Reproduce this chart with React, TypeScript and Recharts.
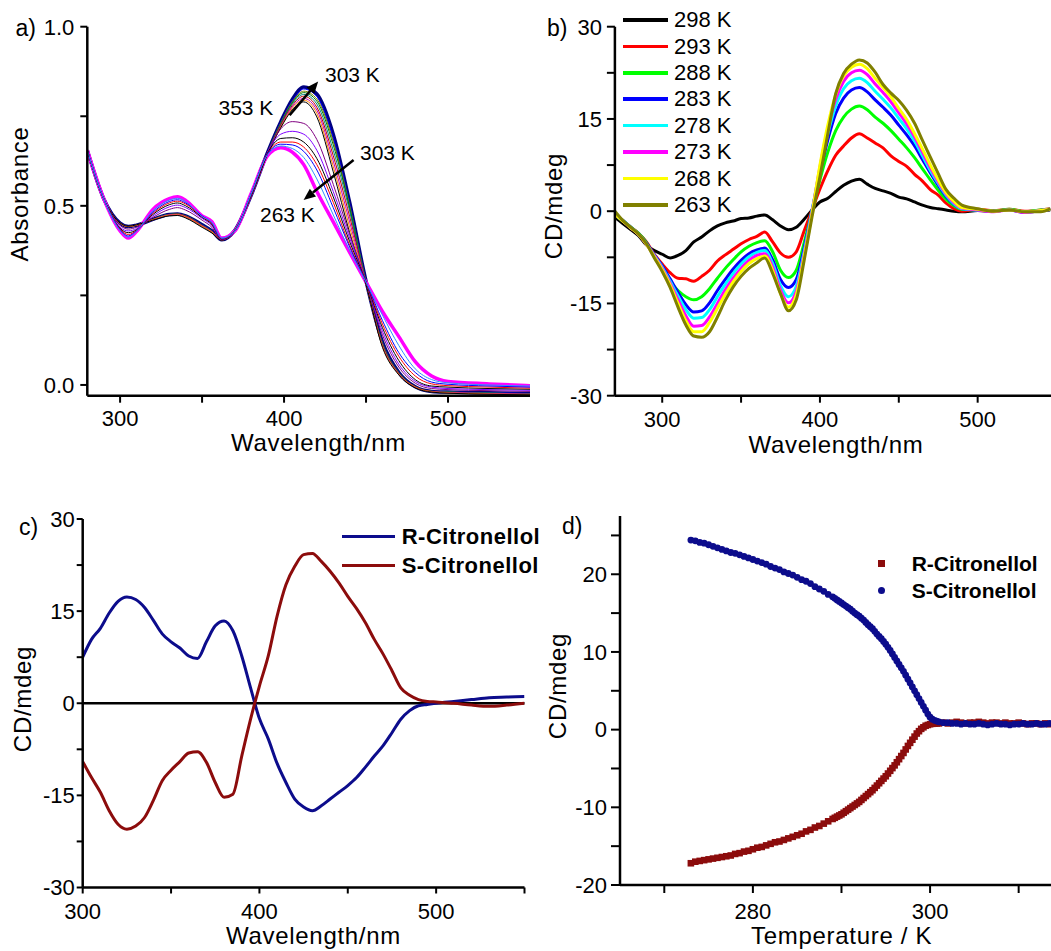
import React from 'react';
import { LineChart, Line, XAxis, YAxis, ReferenceLine, ScatterChart, Scatter } from 'recharts';

const FONT = '"Liberation Sans", Arial, Helvetica, sans-serif';

// ---------- panel a: absorbance vs wavelength at several temperatures ----------
const WL_A = [280, 290, 300, 305, 310, 320, 330, 335, 340, 350, 356, 362, 370, 380, 390, 398, 405, 412, 420, 430, 440, 450, 460, 470, 480, 490, 500, 525, 550];

const A353 = [0.655, 0.52, 0.452, 0.443, 0.447, 0.46, 0.472, 0.473, 0.466, 0.44, 0.424, 0.404, 0.43, 0.528, 0.645, 0.718, 0.768, 0.79, 0.748, 0.595, 0.425, 0.28, 0.105, 0.028, -0.008, -0.02, -0.023, -0.026, -0.028];
const A348 = [0.655, 0.52, 0.451, 0.442, 0.446, 0.461, 0.474, 0.475, 0.469, 0.443, 0.427, 0.405, 0.431, 0.529, 0.646, 0.72, 0.772, 0.795, 0.758, 0.61, 0.44, 0.282, 0.108, 0.03, -0.006, -0.019, -0.022, -0.025, -0.027];
const A343 = [0.655, 0.52, 0.451, 0.442, 0.446, 0.461, 0.475, 0.476, 0.47, 0.444, 0.428, 0.405, 0.431, 0.529, 0.647, 0.722, 0.776, 0.8, 0.767, 0.625, 0.455, 0.283, 0.11, 0.031, -0.006, -0.019, -0.021, -0.024, -0.026];
const A338 = [0.655, 0.52, 0.452, 0.442, 0.446, 0.462, 0.475, 0.477, 0.471, 0.445, 0.428, 0.405, 0.431, 0.53, 0.647, 0.725, 0.78, 0.806, 0.775, 0.64, 0.47, 0.284, 0.112, 0.032, -0.005, -0.018, -0.021, -0.024, -0.026];
const A333 = [0.655, 0.52, 0.452, 0.442, 0.446, 0.462, 0.476, 0.477, 0.471, 0.446, 0.429, 0.405, 0.432, 0.53, 0.648, 0.727, 0.784, 0.811, 0.784, 0.655, 0.485, 0.285, 0.114, 0.033, -0.005, -0.018, -0.02, -0.023, -0.025];
const A328 = [0.655, 0.52, 0.452, 0.442, 0.446, 0.462, 0.476, 0.477, 0.472, 0.446, 0.429, 0.405, 0.432, 0.53, 0.649, 0.729, 0.787, 0.816, 0.792, 0.67, 0.495, 0.286, 0.116, 0.034, -0.005, -0.018, -0.02, -0.023, -0.025];
const A323 = [0.655, 0.52, 0.452, 0.442, 0.446, 0.462, 0.476, 0.477, 0.472, 0.446, 0.429, 0.405, 0.432, 0.53, 0.649, 0.731, 0.79, 0.82, 0.798, 0.68, 0.5, 0.287, 0.117, 0.034, -0.005, -0.018, -0.02, -0.023, -0.025];
const A313 = [0.655, 0.52, 0.452, 0.442, 0.446, 0.462, 0.476, 0.477, 0.472, 0.447, 0.43, 0.405, 0.432, 0.53, 0.65, 0.733, 0.793, 0.826, 0.805, 0.69, 0.505, 0.288, 0.118, 0.035, -0.005, -0.018, -0.02, -0.022, -0.024];
const A303 = [0.655, 0.52, 0.452, 0.442, 0.446, 0.462, 0.476, 0.477, 0.472, 0.447, 0.43, 0.405, 0.432, 0.53, 0.65, 0.735, 0.797, 0.832, 0.812, 0.7, 0.51, 0.29, 0.12, 0.035, -0.005, -0.018, -0.02, -0.022, -0.024];
const A298 = [0.655, 0.52, 0.445, 0.435, 0.44, 0.468, 0.49, 0.495, 0.488, 0.46, 0.44, 0.405, 0.43, 0.532, 0.65, 0.715, 0.735, 0.73, 0.685, 0.56, 0.42, 0.287, 0.14, 0.05, 0.005, -0.01, -0.013, -0.016, -0.018];
const A293 = [0.655, 0.52, 0.44, 0.43, 0.436, 0.472, 0.497, 0.502, 0.495, 0.465, 0.445, 0.406, 0.43, 0.533, 0.65, 0.7, 0.708, 0.7, 0.655, 0.54, 0.41, 0.287, 0.15, 0.058, 0.01, -0.006, -0.01, -0.013, -0.015];
const A288 = [0.655, 0.52, 0.437, 0.425, 0.433, 0.476, 0.503, 0.508, 0.5, 0.468, 0.448, 0.407, 0.43, 0.534, 0.648, 0.688, 0.69, 0.678, 0.632, 0.525, 0.4, 0.287, 0.16, 0.068, 0.015, -0.003, -0.006, -0.01, -0.012];
const A283 = [0.655, 0.52, 0.435, 0.42, 0.431, 0.479, 0.508, 0.513, 0.505, 0.47, 0.45, 0.408, 0.43, 0.534, 0.646, 0.678, 0.678, 0.664, 0.615, 0.51, 0.39, 0.287, 0.17, 0.08, 0.025, 0.003, -0.002, -0.006, -0.009];
const A278 = [0.655, 0.52, 0.433, 0.416, 0.43, 0.482, 0.512, 0.517, 0.508, 0.472, 0.452, 0.409, 0.43, 0.535, 0.645, 0.672, 0.67, 0.652, 0.6, 0.495, 0.385, 0.287, 0.18, 0.09, 0.035, 0.008, 0.002, -0.003, -0.006];
const A273 = [0.655, 0.52, 0.431, 0.413, 0.429, 0.486, 0.516, 0.521, 0.512, 0.47, 0.454, 0.41, 0.43, 0.535, 0.643, 0.667, 0.66, 0.635, 0.575, 0.475, 0.375, 0.287, 0.195, 0.11, 0.045, 0.015, 0.006, 0, -0.003];
const A263 = [0.655, 0.52, 0.43, 0.41, 0.428, 0.49, 0.52, 0.525, 0.515, 0.472, 0.456, 0.41, 0.43, 0.535, 0.64, 0.662, 0.65, 0.615, 0.54, 0.455, 0.37, 0.287, 0.205, 0.135, 0.065, 0.025, 0.01, 0.003, -0.002];

// arrows drawn in data coordinates (wavelength, absorbance)
const ARROWS_A = [
  [{ x: 403.4, y: 0.753 }, { x: 420.8, y: 0.847 }],
  [{ x: 442.4, y: 0.628 }, { x: 411.9, y: 0.516 }],
];

// ---------- panel b: CD spectra vs temperature ----------
const WL_B = [270, 275, 280, 285, 290, 295, 300, 305, 310, 315, 320, 325, 330, 335, 340, 345, 350, 355, 360, 365, 370, 375, 380, 385, 390, 395, 400, 405, 410, 415, 420, 425, 430, 435, 440, 445, 450, 455, 460, 465, 470, 475, 480, 485, 490, 500, 510, 520, 530, 540, 546];

const CD298 = [-1.0, -2.0, -3.0, -4.0, -5.5, -6.4, -7.0, -7.6, -7.2, -6.4, -5.0, -4.2, -3.2, -2.4, -1.9, -1.6, -1.2, -1.1, -0.8, -0.6, -1.4, -2.4, -3.0, -2.6, -1.3, 0.2, 1.5, 2.1, 3.2, 4.2, 4.9, 5.2, 4.4, 3.7, 3.3, 2.9, 2.3, 2.0, 1.5, 1.0, 0.6, 0.4, 0.2, 0.0, -0.1, 0.1, 0.0, 0.2, -0.1, 0.1, 0.2];
const CD293 = [-0.5, -1.5, -2.6, -3.6, -5.0, -7.0, -8.6, -10.0, -10.9, -11.0, -11.4, -10.6, -9.6, -8.1, -7.1, -6.2, -5.3, -4.6, -4.1, -3.4, -5.0, -6.8, -7.5, -6.6, -3.2, 0.2, 3.6, 6.6, 9.1, 10.6, 11.9, 12.6, 11.9, 11.1, 10.3, 9.0, 8.1, 7.3, 6.0, 4.9, 3.5, 2.6, 1.3, 0.4, 0.0, 0.3, 0.1, 0.3, 0.0, 0.2, 0.4];
const CD288 = [-0.6, -1.6, -2.6, -3.6, -5.1, -7.4, -9.4, -11.4, -12.9, -13.9, -14.4, -13.9, -12.6, -10.9, -9.3, -7.9, -6.6, -5.7, -5.1, -4.8, -6.6, -9.6, -10.8, -9.6, -5.1, 0.0, 5.1, 9.6, 13.1, 15.3, 16.6, 17.1, 16.5, 15.3, 14.3, 13.1, 11.7, 10.3, 8.7, 6.9, 5.1, 3.4, 1.9, 0.9, 0.3, 0.2, 0.0, 0.3, -0.1, 0.2, 0.3];
const CD283 = [-0.5, -1.5, -2.6, -3.7, -5.2, -7.1, -8.9, -11.0, -13.2, -15.2, -16.4, -16.2, -14.9, -12.9, -11.1, -9.4, -8.0, -6.9, -6.3, -6.0, -7.9, -11.1, -12.4, -11.1, -6.0, 0.1, 6.2, 11.6, 15.9, 18.4, 19.7, 20.1, 19.4, 18.1, 16.9, 15.6, 14.0, 12.4, 10.6, 8.4, 6.2, 4.2, 2.4, 1.1, 0.4, 0.2, 0.0, 0.2, -0.2, 0.1, 0.3];
const CD278 = [-0.5, -1.5, -2.6, -3.7, -5.3, -7.2, -9.1, -11.4, -13.8, -16.0, -17.4, -17.3, -16.0, -13.9, -11.9, -10.1, -8.6, -7.4, -6.7, -6.4, -8.5, -12.1, -13.9, -12.2, -6.6, 0.1, 6.8, 12.6, 17.1, 19.9, 21.2, 21.6, 20.9, 19.5, 18.2, 16.8, 15.1, 13.4, 11.4, 9.0, 6.6, 4.5, 2.6, 1.2, 0.4, 0.2, 0.0, 0.2, -0.1, 0.1, 0.3];
const CD273 = [-0.5, -1.6, -2.7, -3.8, -5.4, -7.3, -9.3, -11.7, -14.4, -17.0, -18.7, -18.6, -17.2, -15.0, -12.8, -10.9, -9.3, -8.0, -7.2, -6.9, -9.1, -12.8, -14.9, -13.0, -7.1, -0.2, 7.2, 13.4, 18.2, 21.1, 22.5, 22.9, 22.2, 20.7, 19.3, 17.8, 16.0, 14.2, 12.1, 9.6, 7.1, 4.8, 2.8, 1.4, 0.5, 0.2, -0.1, 0.2, -0.2, 0.1, 0.3];
const CD268 = [-0.5, -1.6, -2.7, -3.8, -5.4, -7.4, -9.5, -12.0, -15.0, -17.8, -19.6, -19.6, -18.1, -15.8, -13.5, -11.5, -9.8, -8.5, -7.7, -7.3, -9.6, -13.4, -15.6, -13.6, -7.4, -0.4, 7.5, 14.0, 19.0, 22.0, 23.4, 23.9, 23.2, 21.6, 20.1, 18.6, 16.7, 14.9, 12.6, 10.1, 7.5, 5.1, 3.0, 1.6, 0.6, 0.3, 0.0, 0.2, -0.1, 0.1, 0.3];
const CD263 = [0.0, -1.5, -2.6, -3.7, -5.3, -7.6, -9.8, -12.4, -15.6, -18.5, -20.3, -20.5, -19.6, -17.2, -14.5, -12.3, -10.6, -9.3, -8.4, -7.6, -10.1, -13.4, -16.2, -14.4, -8.0, -0.9, 5.6, 12.6, 19.1, 22.4, 23.9, 24.6, 24.1, 22.6, 20.6, 19.2, 18.0, 16.4, 14.3, 11.5, 8.8, 6.1, 3.5, 2.1, 1.0, 0.4, 0.0, 0.2, -0.1, -0.1, 0.4];

// ---------- panel c: R / S citronellol CD spectra ----------
const WL_C = [300, 305, 310, 315, 320, 325, 330, 335, 340, 345, 350, 355, 360, 365, 370, 375, 380, 385, 390, 395, 400, 405, 410, 415, 420, 425, 430, 435, 440, 445, 450, 455, 460, 465, 470, 475, 480, 485, 490, 495, 500, 510, 520, 530, 540, 550];
const CD_R = [7.5, 10.4, 12.2, 14.7, 16.6, 17.3, 16.9, 15.6, 13.5, 11.3, 10.0, 9.0, 7.7, 7.3, 10.0, 12.6, 13.4, 11.8, 7.7, 2.5, -2.5, -5.8, -9.8, -12.9, -15.6, -16.9, -17.5, -16.7, -15.6, -14.5, -13.4, -12.1, -10.4, -8.6, -6.9, -4.8, -2.6, -1.2, -0.4, -0.2, 0.0, 0.3, 0.6, 0.9, 1.0, 1.1];
const CD_S = [-9.5, -12.1, -14.5, -17.5, -19.7, -20.5, -20.0, -18.6, -15.8, -12.6, -10.9, -9.5, -8.1, -7.9, -9.6, -12.9, -15.3, -14.8, -8.6, -2.6, 2.8, 7.7, 14.2, 19.3, 22.3, 24.2, 24.4, 23.1, 21.5, 19.6, 17.4, 15.4, 13.1, 10.4, 8.0, 5.3, 2.5, 1.3, 0.6, 0.3, 0.2, 0.0, -0.3, -0.5, -0.3, 0.0];

// ---------- panel d: CD vs temperature (denser readings on the steep part) ----------
const T_D = [
  273, 273.5, 274, 274.5, 275, 275.5, 276, 276.5, 277, 277.5, 278, 278.5, 279, 279.5, 280, 280.5, 281, 281.5, 282, 282.5,
  283, 283.5, 284, 284.5, 285, 285.5, 286, 286.5, 287, 287.5, 288, 288.5,
  289, 289.25, 289.5, 289.75, 290, 290.25, 290.5, 290.75, 291, 291.25, 291.5, 291.75, 292, 292.25, 292.5, 292.75,
  293, 293.25, 293.5, 293.75, 294, 294.25, 294.5, 294.75, 295, 295.25, 295.5, 295.75, 296, 296.25, 296.5, 296.75,
  297, 297.25, 297.5, 297.75, 298, 298.25, 298.5, 298.75, 299, 299.25, 299.5, 299.75, 300, 300.25, 300.5, 300.75, 301,
  301.5, 302, 302.5, 303, 303.5, 304, 304.5, 305, 305.5, 306, 306.5, 307, 307.5, 308, 308.5, 309, 309.5, 310, 310.5,
  311, 311.5, 312, 312.5, 313, 313.5, 314,
];
const D_R = [
  -17.2, -17.0, -16.9, -16.8, -16.7, -16.6, -16.5, -16.4, -16.3, -16.2, -16.0, -15.9, -15.7, -15.6, -15.4, -15.2, -15.1, -14.9, -14.7, -14.5,
  -14.4, -14.2, -14.0, -13.8, -13.6, -13.4, -13.1, -12.9, -12.6, -12.4, -12.1, -11.8,
  -11.5, -11.35, -11.2, -11.05, -10.9, -10.7, -10.5, -10.3, -10.1, -9.9, -9.7, -9.5, -9.3, -9.05, -8.8, -8.55,
  -8.3, -8.05, -7.8, -7.5, -7.2, -6.9, -6.6, -6.3, -6.0, -5.65, -5.3, -4.95, -4.6, -4.2, -3.8, -3.4,
  -3.0, -2.55, -2.1, -1.7, -1.3, -0.9, -0.5, -0.2, 0.1, 0.3, 0.5, 0.6, 0.7, 0.75, 0.8, 0.8, 0.8,
  0.9, 0.8, 0.9, 1.0, 0.9, 0.8, 0.9, 0.9, 1.0, 0.9, 0.8, 0.9, 0.9, 0.8, 0.9, 0.8, 0.8, 0.9, 0.8, 0.7,
  0.8, 0.8, 0.7, 0.8, 0.7, 0.8,
];
const D_S = [
  24.4, 24.3, 24.1, 24.0, 23.8, 23.6, 23.4, 23.2, 23.0, 22.8, 22.7, 22.5, 22.3, 22.1, 21.9, 21.7, 21.5, 21.3, 21.0, 20.8,
  20.6, 20.3, 20.1, 19.9, 19.6, 19.3, 19.1, 18.8, 18.4, 18.1, 17.8, 17.4,
  17.1, 16.9, 16.7, 16.5, 16.3, 16.1, 15.9, 15.7, 15.5, 15.25, 15.0, 14.8, 14.6, 14.35, 14.1, 13.8,
  13.5, 13.25, 13.0, 12.65, 12.3, 12.0, 11.7, 11.35, 11.0, 10.6, 10.2, 9.75, 9.3, 8.85, 8.4, 7.95,
  7.5, 7.0, 6.5, 6.0, 5.5, 5.0, 4.5, 4.0, 3.5, 3.0, 2.5, 2.0, 1.6, 1.35, 1.2, 1.1, 1.0,
  0.9, 0.9, 0.8, 0.8, 0.7, 0.8, 0.7, 0.7, 0.8, 0.7, 0.6, 0.7, 0.8, 0.7, 0.7, 0.6, 0.7, 0.7, 0.8, 0.7,
  0.7, 0.8, 0.7, 0.7, 0.8, 0.7,
];

// ---------- series styling ----------
// thick extremes first so the thin curves sit on top
const SERIES_A = [
  { key: 'a303', color: '#000080', width: 3.5, values: A303 },
  { key: 'a263', color: '#ff00ff', width: 3.5, values: A263 },
  { key: 'a313', color: '#0000ff', width: 1, values: A313 },
  { key: 'a323', color: '#808000', width: 1, values: A323 },
  { key: 'a328', color: '#008000', width: 1, values: A328 },
  { key: 'a333', color: '#008080', width: 1, values: A333 },
  { key: 'a338', color: '#c00000', width: 1, values: A338 },
  { key: 'a343', color: '#c000c0', width: 1, values: A343 },
  { key: 'a348', color: '#ff8000', width: 1, values: A348 },
  { key: 'a353', color: '#000000', width: 1, values: A353 },
  { key: 'a298', color: '#800080', width: 1, values: A298 },
  { key: 'a293', color: '#8000ff', width: 1, values: A293 },
  { key: 'a288', color: '#000000', width: 1, values: A288 },
  { key: 'a283', color: '#ff0000', width: 1, values: A283 },
  { key: 'a278', color: '#0000ff', width: 1, values: A278 },
  { key: 'a273', color: '#3090ff', width: 1, values: A273 },
];

const SERIES_B = [
  { key: 'b298', name: '298 K', color: '#000000', values: CD298 },
  { key: 'b293', name: '293 K', color: '#ff0000', values: CD293 },
  { key: 'b288', name: '288 K', color: '#00ff00', values: CD288 },
  { key: 'b283', name: '283 K', color: '#0000ff', values: CD283 },
  { key: 'b278', name: '278 K', color: '#00ffff', values: CD278 },
  { key: 'b273', name: '273 K', color: '#ff00ff', values: CD273 },
  { key: 'b268', name: '268 K', color: '#ffff00', values: CD268 },
  { key: 'b263', name: '263 K', color: '#808000', values: CD263 },
];

const COLOR_BLUE = '#0c0c8c';
const COLOR_RED = '#8c0c0c';

const SERIES_C = [
  { key: 'r', name: 'R-Citronellol', color: COLOR_BLUE, values: CD_R },
  { key: 's', name: 'S-Citronellol', color: COLOR_RED, values: CD_S },
];

function buildRows(xKey: string, xs: number[], series: { key: string; values: number[] }[]) {
  return xs.map((x, i) => {
    const row: any = { [xKey]: x };
    series.forEach((s) => (row[s.key] = s.values[i]));
    return row;
  });
}

const rowsA = buildRows('wl', WL_A, SERIES_A);
const rowsB = buildRows('wl', WL_B, SERIES_B);
const rowsC = buildRows('wl', WL_C, SERIES_C);
const pointsR = T_D.map((T, i) => ({ T, v: D_R[i] }));
const pointsS = T_D.map((T, i) => ({ T, v: D_S[i] }));

const CD_TICKS = [-30, -22.5, -15, -7.5, 0, 7.5, 15, 22.5, 30];
const WL_TICKS = [300, 350, 400, 450, 500];

const axisLine = { stroke: '#000', strokeWidth: 2.5 };
const tickLine = { stroke: '#000', strokeWidth: 2 };
const tickStyle = { fill: '#000', fontSize: 22, fontFamily: FONT };

const hundreds = (v: number) => (v % 100 === 0 ? String(v) : '');
const cdFmt = (v: number) => (v % 15 === 0 ? String(v) : '');

function Arrow(p: any) {
  const { x1, y1, x2, y2 } = p;
  if (x1 == null || x2 == null) return null;
  const ang = Math.atan2(y2 - y1, x2 - x1);
  const L = 12;
  const W = 5;
  const bx = x2 - L * Math.cos(ang);
  const by = y2 - L * Math.sin(ang);
  const sx = W * Math.sin(ang);
  const sy = W * Math.cos(ang);
  return (
    <g>
      <line x1={x1} y1={y1} x2={bx} y2={by} stroke="#000" strokeWidth={2.5} />
      <polygon points={`${x2},${y2} ${bx + sx},${by - sy} ${bx - sx},${by + sy}`} fill="#000" />
    </g>
  );
}

function Txt({ x, base, size = 22, bold = false, children }: any) {
  return (
    <div
      style={{
        position: 'absolute',
        left: x,
        top: base - 0.85 * size,
        fontSize: size,
        lineHeight: 1,
        fontWeight: bold ? 'bold' : 'normal',
        fontFamily: FONT,
        whiteSpace: 'nowrap',
        color: '#000',
      }}
    >
      {children}
    </div>
  );
}

function Title({ cx, cy, rotate = false, children }: any) {
  return (
    <div
      style={{
        position: 'absolute',
        left: cx,
        top: cy,
        transform: `translate(-50%, -50%)${rotate ? ' rotate(-90deg)' : ''}`,
        fontSize: 24,
        letterSpacing: 0.7,
        lineHeight: 1,
        fontFamily: FONT,
        whiteSpace: 'nowrap',
        color: '#000',
      }}
    >
      {children}
    </div>
  );
}

function Box({ left, top, children }: any) {
  return <div style={{ position: 'absolute', left, top }}>{children}</div>;
}

const Square = (p: any) => <rect x={p.cx - 3.3} y={p.cy - 3.3} width={6.6} height={6.6} fill={COLOR_RED} />;
const Dot = (p: any) => <circle cx={p.cx} cy={p.cy} r={3.4} fill={COLOR_BLUE} />;

export default function App() {
  return (
    <div
      style={{
        position: 'absolute',
        left: 0,
        top: 0,
        width: 1051,
        height: 951,
        overflow: 'hidden',
        background: '#fff',
        fontFamily: FONT,
      }}
    >
      {/* a) */}
      <Box left={0} top={0}>
        <LineChart width={540} height={470} data={rowsA} margin={{ top: 26.7, right: 10, bottom: 34.3, left: 27.3 }}>
          <XAxis type="number" dataKey="wl" domain={[280, 550]} ticks={WL_TICKS} interval={0} tickFormatter={hundreds}
            axisLine={axisLine} tickLine={tickLine} tick={tickStyle} tickSize={7} tickMargin={8} height={40} allowDataOverflow />
          <YAxis type="number" domain={[-0.03, 1]} ticks={[0, 0.25, 0.5, 0.75, 1]} interval={0}
            tickFormatter={(v: number) => (v === 0 || v === 0.5 || v === 1 ? v.toFixed(1) : '')}
            axisLine={axisLine} tickLine={tickLine} tick={tickStyle} tickSize={7} tickMargin={6} width={60} allowDataOverflow />
          {SERIES_A.map((s) => (
            <Line key={s.key} dataKey={s.key} type="monotone" stroke={s.color} strokeWidth={s.width} dot={false} isAnimationActive={false} />
          ))}
          {ARROWS_A.map((seg, i) => (
            <ReferenceLine key={i} segment={seg} shape={Arrow} ifOverflow="visible" />
          ))}
        </LineChart>
      </Box>

      {/* b) */}
      <Box left={540} top={0}>
        <LineChart width={511} height={470} data={rowsB} margin={{ top: 26.7, right: 0, bottom: 34.3, left: 14.9 }}>
          <XAxis type="number" dataKey="wl" domain={[270, 546.5]} ticks={WL_TICKS} interval={0} tickFormatter={hundreds}
            axisLine={axisLine} tickLine={tickLine} tick={tickStyle} tickSize={7} tickMargin={9} height={40} allowDataOverflow />
          <YAxis type="number" domain={[-30, 30]} ticks={CD_TICKS} interval={0} tickFormatter={cdFmt}
            axisLine={axisLine} tickLine={tickLine} tick={tickStyle} tickSize={8} tickMargin={5} width={60} allowDataOverflow />
          {SERIES_B.map((s) => (
            <Line key={s.key} dataKey={s.key} type="monotone" stroke={s.color} strokeWidth={3} dot={false} isAnimationActive={false} />
          ))}
        </LineChart>
      </Box>

      {/* c) */}
      <Box left={0} top={480}>
        <LineChart width={540} height={471} data={rowsC} margin={{ top: 39, right: 15.5, bottom: 23.5, left: 22.7 }}>
          <XAxis type="number" dataKey="wl" domain={[300, 550]} ticks={[...WL_TICKS, 550]} interval={0} tickFormatter={hundreds}
            axisLine={axisLine} tickLine={tickLine} tick={tickStyle} tickSize={6} tickMargin={10} height={40} allowDataOverflow />
          <YAxis type="number" domain={[-30, 30]} ticks={CD_TICKS} interval={0} tickFormatter={cdFmt}
            axisLine={axisLine} tickLine={tickLine} tick={tickStyle} tickSize={6} tickMargin={2} width={60} allowDataOverflow />
          <ReferenceLine y={0} stroke="#000" strokeWidth={2.5} />
          {SERIES_C.map((s) => (
            <Line key={s.key} dataKey={s.key} type="monotone" stroke={s.color} strokeWidth={3} dot={false} isAnimationActive={false} />
          ))}
        </LineChart>
      </Box>

      {/* d) */}
      <Box left={540} top={480}>
        <ScatterChart width={511} height={471} margin={{ top: 36, right: 0, bottom: 26, left: 20 }}>
          <XAxis type="number" dataKey="T" domain={[265, 313.65]} ticks={[270, 280, 290, 300, 310]} interval={0}
            tickFormatter={(v: number) => (v % 20 === 0 ? String(v) : '')}
            axisLine={axisLine} tickLine={tickLine} tick={tickStyle} tickSize={8} tickMargin={10} height={40} allowDataOverflow />
          <YAxis type="number" dataKey="v" domain={[-20, 27.5]} ticks={[-20, -15, -10, -5, 0, 5, 10, 15, 20, 25]} interval={0}
            tickFormatter={(v: number) => (v % 10 === 0 ? String(v) : '')}
            axisLine={axisLine} tickLine={tickLine} tick={tickStyle} tickSize={9} tickMargin={4} width={60} allowDataOverflow />
          <Scatter name="R-Citronellol" data={pointsR} shape={Square} isAnimationActive={false} />
          <Scatter name="S-Citronellol" data={pointsS} shape={Dot} isAnimationActive={false} />
        </ScatterChart>
      </Box>

      {/* panel letters */}
      <Txt x={15.5} base={37} size={23}>a)</Txt>
      <Txt x={547} base={37} size={23}>b)</Txt>
      <Txt x={19} base={536} size={23}>c)</Txt>
      <Txt x={562} base={535} size={23}>d)</Txt>

      {/* axis titles */}
      <Title cx={318.5} cy={443.3}>Wavelength/nm</Title>
      <Title cx={20} cy={194} rotate>Absorbance</Title>
      <Title cx={836} cy={445}>Wavelength/nm</Title>
      <Title cx={554} cy={206} rotate>CD/mdeg</Title>
      <Title cx={313.5} cy={936}>Wavelength/nm</Title>
      <Title cx={22.5} cy={699} rotate>CD/mdeg</Title>
      <Title cx={841.7} cy={936}>Temperature / K</Title>
      <Title cx={558} cy={685.5} rotate>CD/mdeg</Title>

      {/* panel a annotations */}
      <Txt x={325} base={82} size={21}>303 K</Txt>
      <Txt x={218.5} base={115} size={21}>353 K</Txt>
      <Txt x={360} base={160} size={21}>303 K</Txt>
      <Txt x={260} base={222} size={21}>263 K</Txt>

      {/* panel b legend */}
      {SERIES_B.map((s, i) => {
        const cy = 20 + i * 26.4;
        return (
          <React.Fragment key={s.key}>
            <div style={{ position: 'absolute', left: 622.7, top: cy - 1.75, width: 45.6, height: 3.5, background: s.color }} />
            <Txt x={674} base={cy + 7.9} size={22}>{s.name}</Txt>
          </React.Fragment>
        );
      })}

      {/* panel c legend */}
      {SERIES_C.map((s, i) => {
        const cy = 536.7 + i * 29;
        return (
          <React.Fragment key={s.key}>
            <div style={{ position: 'absolute', left: 341.7, top: cy - 1.5, width: 53.3, height: 3, background: s.color }} />
            <Txt x={401.7} base={cy + 7.9} size={22} bold>
              <span style={{ letterSpacing: 0.5 }}>{s.name}</span>
            </Txt>
          </React.Fragment>
        );
      })}

      {/* panel d legend */}
      <div style={{ position: 'absolute', left: 877.5, top: 559.8, width: 7, height: 7, background: COLOR_RED }} />
      <div style={{ position: 'absolute', left: 877.5, top: 587.2, width: 7, height: 7, borderRadius: '50%', background: COLOR_BLUE }} />
      <Txt x={911.7} base={570.8} size={21} bold>R-Citronellol</Txt>
      <Txt x={911.7} base={598.2} size={21} bold>S-Citronellol</Txt>
    </div>
  );
}
